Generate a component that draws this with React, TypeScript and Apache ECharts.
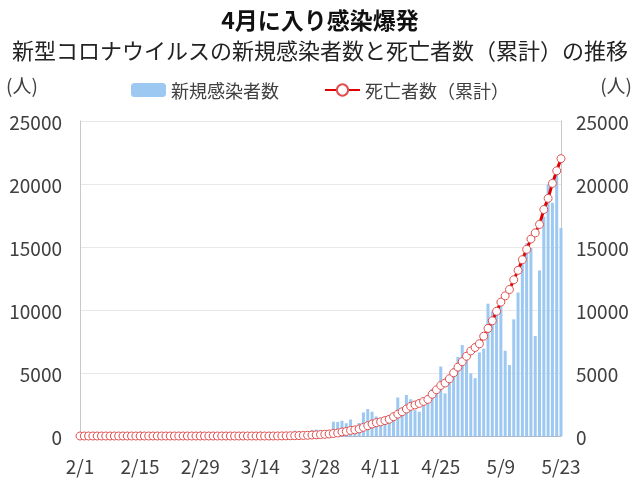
import React, { useEffect, useRef } from "react";
import * as echarts from "echarts";

const FONT = '"Noto Sans CJK JP", "Noto Sans", sans-serif';

// Date labels: 2020/2/1 .. 2020/5/23
const monthLengths = [
  { m: 2, days: 29 },
  { m: 3, days: 31 },
  { m: 4, days: 30 },
  { m: 5, days: 23 },
];
const categories: string[] = [];
monthLengths.forEach(({ m, days }) => {
  for (let d = 1; d <= days; d++) categories.push(`${m}/${d}`);
});

// New cases per day
const casesFeb = [
  0, 0, 0, 0, 0, 0, 0, 0, 0, 0, 0, 0, 0, 0, 0, 0, 0, 0, 0, 0, 0, 0, 0, 0, 0,
  1, 0, 0, 1,
];
const casesMar = [
  0, 0, 0, 1, 5, 5, 6, 6, 0, 9, 18, 25, 21, 23, 79, 34, 57, 137, 193, 283, 224,
  418, 345, 310, 232, 482, 502, 487, 352, 323, 1138,
];
const casesApr = [
  1119, 1208, 1012, 1304, 770, 1031, 1873, 2136, 1922, 1546, 1089, 1442, 1261,
  1832, 3058, 2105, 3257, 2917, 2055, 1927, 2498, 2678, 3735, 3503, 5514, 3379,
  4613, 5385, 6276, 7218,
];
const casesMay = [
  6209, 4970, 4588, 6633, 6935, 10503, 9888, 10222, 10611, 6760, 5632, 9258,
  11385, 13944, 15305, 14919, 7938, 13140, 17408, 19951, 18508, 20803, 16508,
];

// Cumulative deaths
const deathsFeb = [
  0, 0, 0, 0, 0, 0, 0, 0, 0, 0, 0, 0, 0, 0, 0, 0, 0, 0, 0, 0, 0, 0, 0, 0, 0,
  0, 0, 0, 0,
];
const deathsMar = [
  0, 0, 0, 0, 0, 0, 0, 0, 0, 0, 0, 0, 0, 0, 0, 0, 1, 3, 6, 11, 18, 25, 34, 46,
  57, 77, 92, 114, 136, 159, 201,
];
const deathsApr = [
  240, 324, 359, 445, 486, 564, 686, 819, 950, 1057, 1124, 1223, 1328, 1532,
  1736, 1924, 2141, 2354, 2462, 2587, 2741, 2906, 3313, 3670, 4016, 4205, 4543,
  5017, 5466, 5901,
];
const deathsMay = [
  6329, 6750, 7025, 7321, 7921, 8536, 9146, 9897, 10627, 11123, 11625, 12400,
  13149, 13993, 14817, 15633, 16118, 16792, 17971, 18859, 20047, 21048, 22013,
];

const cases = [...casesFeb, ...casesMar, ...casesApr, ...casesMay];
const deaths = [...deathsFeb, ...deathsMar, ...deathsApr, ...deathsMay];

const TITLE = "4月に入り感染爆発";
const SUBTITLE = "新型コロナウイルスの新規感染者数と死亡者数（累計）の推移";
const SERIES_CASES = "新規感染者数";
const SERIES_DEATHS = "死亡者数（累計）";
const UNIT = "(人)";

export default function App() {
  const ref = useRef<HTMLDivElement>(null);
  useEffect(() => {
    if (!ref.current) return;
    const chart = echarts.init(ref.current, undefined, { renderer: "svg" });
    const labelColor = "#404040";
    const plain = (v: number) => String(v);
    chart.setOption({
      animation: false,
      textStyle: { fontFamily: FONT },
      title: [
        {
          text: TITLE,
          left: "center",
          top: 5,
          padding: 0,
          textStyle: {
            fontSize: 23,
            lineHeight: 27,
            fontWeight: "bold",
            color: "#111",
            fontFamily: FONT,
          },
        },
        {
          text: SUBTITLE,
          left: "center",
          top: 36,
          padding: 0,
          textStyle: {
            fontSize: 22,
            lineHeight: 25,
            fontWeight: "normal",
            color: "#222",
            fontFamily: FONT,
          },
        },
      ],
      legend: {
        top: 76,
        left: "center",
        itemWidth: 35,
        itemHeight: 14,
        itemGap: 45,
        textStyle: { fontSize: 18, color: labelColor, fontFamily: FONT },
        data: [SERIES_CASES, SERIES_DEATHS],
      },
      graphic: [
        {
          type: "text",
          left: 6,
          top: 75,
          style: { text: UNIT, fontSize: 19, fill: labelColor, fontFamily: FONT },
        },
        {
          type: "text",
          right: 8,
          top: 75,
          style: { text: UNIT, fontSize: 19, fill: labelColor, fontFamily: FONT },
        },
      ],
      grid: { left: 80, right: 79, top: 121, bottom: 47 },
      xAxis: {
        type: "category",
        data: categories,
        boundaryGap: false,
        axisLine: { lineStyle: { color: "#a9b9cf", width: 1 } },
        axisTick: {
          inside: true,
          interval: 13,
          length: 5,
          lineStyle: { color: "#a9b9cf" },
        },
        axisLabel: {
          interval: 13,
          margin: 20,
          fontSize: 19,
          color: labelColor,
          fontFamily: FONT,
        },
      },
      yAxis: [
        {
          type: "value",
          min: 0,
          max: 25000,
          interval: 5000,
          axisLine: { show: true, lineStyle: { color: "#c8c8c8" } },
          axisTick: { show: false },
          splitLine: { lineStyle: { color: "#e8e8e8" } },
          axisLabel: { fontSize: 19, margin: 18, color: labelColor, fontFamily: FONT, formatter: plain },
        },
        {
          type: "value",
          position: "right",
          min: 0,
          max: 25000,
          interval: 5000,
          axisLine: { show: true, lineStyle: { color: "#c8c8c8" } },
          axisTick: { show: false },
          splitLine: { show: false },
          axisLabel: { fontSize: 19, margin: 15, color: labelColor, fontFamily: FONT, formatter: plain },
        },
      ],
      series: [
        {
          type: "bar",
          name: SERIES_CASES,
          data: cases,
          barWidth: "70%",
          itemStyle: { color: "#9dc8f2" },
        },
        {
          type: "line",
          name: SERIES_DEATHS,
          yAxisIndex: 1,
          data: deaths,
          symbol: "circle",
          symbolSize: 8,
          showAllSymbol: true,
          lineStyle: { color: "#e00000", width: 3 },
          itemStyle: { color: "#ffffff", borderColor: "#e05050", borderWidth: 1 },
        },
      ],
    });
    return () => chart.dispose();
  }, []);
  return (
    <div
      ref={ref}
      style={{ position: "fixed", left: 0, top: 0, width: 640, height: 483 }}
    />
  );
}
